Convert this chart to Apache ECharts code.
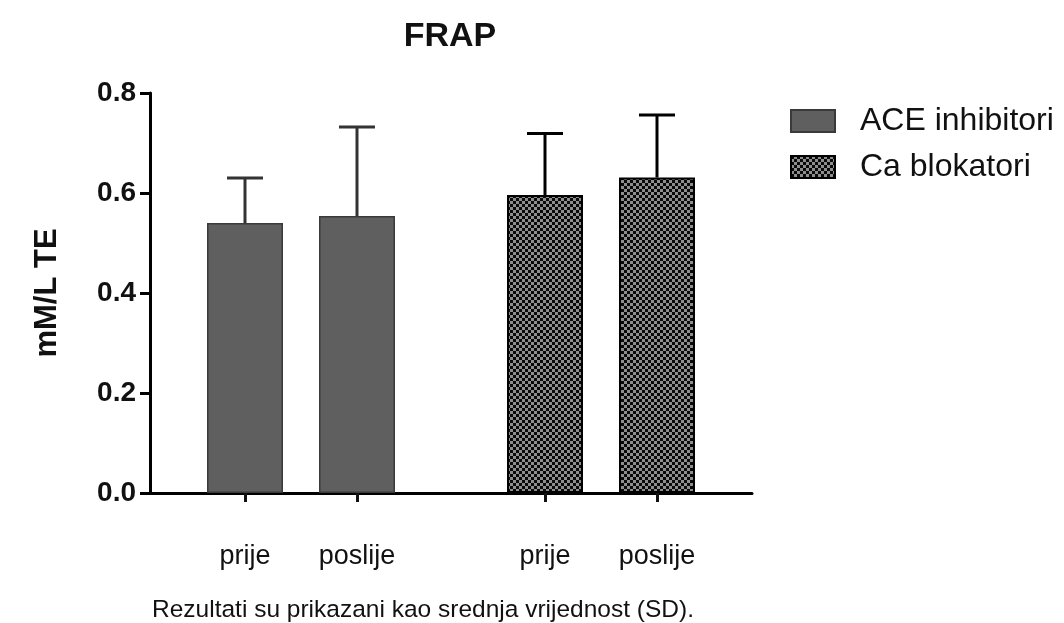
<!DOCTYPE html>
<html>
<head>
<meta charset="utf-8">
<script src="https://cdn.jsdelivr.net/npm/echarts@6/dist/echarts.min.js"></script>
<style>
html,body{margin:0;padding:0;background:#fff;}
#chart{width:1064px;height:623px;}
</style>
</head>
<body>
<div id="chart"></div>
<script>
// ---- data ----
const categories = ['prije', 'poslije'];
const seriesNames = ['ACE inhibitori', 'Ca blokatori'];
const aceMean = [0.540, 0.554];
const aceSD = [0.090, 0.178];
const caMean = [0.596, 0.631];
const caSD = [0.123, 0.125];
const yTicks = [0, 0.2, 0.4, 0.6, 0.8];
const titleText = 'FRAP';
const yName = 'mM/L TE';
const footnote = 'Rezultati su prikazani kao srednja vrijednost (SD).';

// ---- checker pattern ----
const pc = document.createElement('canvas');
pc.width = 6; pc.height = 6;
const ctx = pc.getContext('2d');
ctx.fillStyle = '#8e8e8e';
ctx.fillRect(0, 0, 6, 6);
ctx.fillStyle = '#0a0a0a';
ctx.fillRect(0, 0, 3, 3);
ctx.fillRect(3, 3, 3, 3);
const checker = { image: pc, repeat: 'repeat' };

const FONT = 'Liberation Sans, Arial, sans-serif';
const TOP = 93, H = 400;

function errRender(color) {
  return function (params, api) {
    const x = api.value(0), m = api.value(1), s = api.value(2);
    const p0 = api.coord([x, m]);
    const p1 = api.coord([x, m + s]);
    const hw = 18;
    return {
      type: 'group',
      children: [
        { type: 'line', shape: { x1: p0[0], y1: p0[1], x2: p1[0], y2: p1[1] }, style: { stroke: color, lineWidth: 3 } },
        { type: 'line', shape: { x1: p1[0] - hw, y1: p1[1], x2: p1[0] + hw, y2: p1[1] }, style: { stroke: color, lineWidth: 3 } }
      ]
    };
  };
}

function catAxis(gi) {
  return {
    gridIndex: gi, type: 'category', data: categories,
    axisLine: { show: false },
    axisTick: { show: true, alignWithLabel: true, length: 9, lineStyle: { color: '#111', width: 3 } },
    axisLabel: { margin: 50, fontSize: 27, color: '#111', fontFamily: FONT },
    splitLine: { show: false }
  };
}
function hiddenY(gi) {
  return { gridIndex: gi, type: 'value', min: 0, max: 0.8, interval: 0.2, show: false, splitLine: { show: false } };
}

const chart = echarts.init(document.getElementById('chart'), null, { renderer: 'canvas' });
chart.setOption({
  backgroundColor: '#fff',
  animation: false,
  title: [
    { text: titleText, left: 445, top: 15, textAlign: 'center',
      textStyle: { fontSize: 34, fontWeight: 'bold', color: '#111', fontFamily: FONT } },
    { text: footnote, left: 418, top: 593, textAlign: 'center',
      textStyle: { fontSize: 24.5, fontWeight: 'normal', color: '#111', fontFamily: FONT } }
  ],
  legend: {
    data: seriesNames, orient: 'vertical', left: 785, top: 100,
    icon: 'rect', itemWidth: 44, itemHeight: 22, itemGap: 14,
    textStyle: { fontSize: 32, color: '#111', fontFamily: FONT, padding: [0, 0, 0, 20] }
  },
  grid: [
    { left: 150, top: TOP, width: 602, height: H },
    { left: 189, top: TOP, width: 224, height: H },
    { left: 489, top: TOP, width: 224, height: H }
  ],
  xAxis: [
    { gridIndex: 0, type: 'value', min: 0, max: 1, axisLine: { show: true, lineStyle: { color: '#000', width: 3 } },
      axisTick: { show: false }, axisLabel: { show: false }, splitLine: { show: false } },
    catAxis(1), catAxis(2)
  ],
  yAxis: [
    { gridIndex: 0, type: 'value', min: yTicks[0], max: yTicks[yTicks.length - 1], interval: 0.2,
      name: yName, nameLocation: 'middle', nameRotate: 90, nameGap: 87,
      nameTextStyle: { fontSize: 31, fontWeight: 'bold', color: '#111', fontFamily: FONT },
      axisLine: { show: true, lineStyle: { color: '#000', width: 3 } },
      axisTick: { show: true, length: 10, lineStyle: { color: '#000', width: 3 } },
      axisLabel: { margin: 14, fontSize: 28, fontWeight: 'bold', color: '#111', fontFamily: FONT,
        formatter: v => v.toFixed(1) },
      splitLine: { show: false } },
    hiddenY(1), hiddenY(2)
  ],
  series: [
    { name: seriesNames[0], type: 'bar', xAxisIndex: 1, yAxisIndex: 1, data: aceMean, barWidth: 76,
      itemStyle: { color: '#5f5f5f', borderColor: '#3a3a3a', borderWidth: 1.5 } },
    { name: 'errA', type: 'custom', xAxisIndex: 1, yAxisIndex: 1, z: 3,
      data: aceMean.map((m, i) => [i, m, aceSD[i]]), renderItem: errRender('#333') },
    { name: seriesNames[1], type: 'bar', xAxisIndex: 2, yAxisIndex: 2, data: caMean, barWidth: 76,
      itemStyle: { color: checker, borderColor: '#000', borderWidth: 2 } },
    { name: 'errB', type: 'custom', xAxisIndex: 2, yAxisIndex: 2, z: 3,
      data: caMean.map((m, i) => [i, m, caSD[i]]), renderItem: errRender('#000') }
  ]
});
</script>
</body>
</html>
